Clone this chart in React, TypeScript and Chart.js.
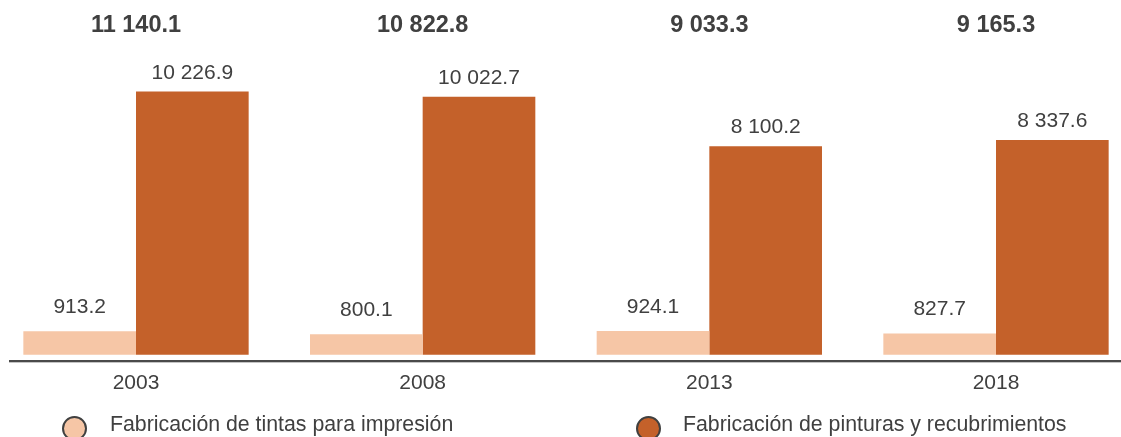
import React, { useEffect, useRef } from "react";
import { Chart, registerables } from "chart.js";

Chart.register(...registerables);

const categories = ["2003", "2008", "2013", "2018"];
const tintas = [913.2, 800.1, 924.1, 827.7];
const pinturas = [10226.9, 10022.7, 8100.2, 8337.6];
const totals = [11140.1, 10822.8, 9033.3, 9165.3];
const seriesNames = [
  "Fabricación de tintas para impresión",
  "Fabricación de pinturas y recubrimientos",
];
const colors = ["#F6C6A6", "#C4612A"];

const FONT = '"Liberation Sans", Arial, sans-serif';
const TEXT = "#404040";

function fmt(v: number): string {
  const [i, d] = v.toFixed(1).split(".");
  return i.replace(/\B(?=(\d{3})+(?!\d))/g, " ") + "." + d;
}

const labelPlugin = {
  id: "valueLabels",
  afterDatasetsDraw(chart: any) {
    const ctx = chart.ctx;
    ctx.save();
    ctx.fillStyle = TEXT;
    ctx.textAlign = "center";
    ctx.textBaseline = "middle";
    ctx.font = `21px ${FONT}`;
    const offsets = [24, 18.5];
    chart.data.datasets.forEach((ds: any, di: number) => {
      const meta = chart.getDatasetMeta(di);
      meta.data.forEach((bar: any, i: number) => {
        ctx.fillText(fmt(ds.data[i]), bar.x, bar.y - offsets[di]);
      });
    });
    ctx.font = `bold 23.5px ${FONT}`;
    const xs = chart.scales.x;
    totals.forEach((t, i) => {
      ctx.fillText(fmt(t), xs.getPixelForValue(i), 25.5);
    });
    // axis line
    ctx.fillStyle = "#4a4a4a";
    ctx.fillRect(9, 360, chart.width - 9, 2);
    ctx.fillStyle = "#c4c4c4";
    ctx.fillRect(9, 362, chart.width - 9, 1);
    ctx.restore();
  },
};

export default function App() {
  const ref = useRef<HTMLCanvasElement | null>(null);

  useEffect(() => {
    document.body.style.margin = "0";
    const canvas = ref.current;
    if (!canvas) return;
    const chart = new Chart(canvas, {
      type: "bar",
      data: {
        labels: categories,
        datasets: [
          {
            label: seriesNames[0],
            data: tintas,
            backgroundColor: colors[0],
            borderWidth: 0,
            clip: false as any,
          },
          {
            label: seriesNames[1],
            data: pinturas,
            backgroundColor: colors[1],
            borderWidth: 0,
            clip: false as any,
          },
        ],
      },
      options: {
        responsive: false,
        animation: false,
        events: [],
        layout: { padding: { left: 136, right: 125, top: 20, bottom: 25 } },
        datasets: {
          bar: { categoryPercentage: 0.786, barPercentage: 1 },
        },
        plugins: {
          legend: { display: false },
          tooltip: { enabled: false },
        },
        scales: {
          x: {
            type: "category",
            offset: false,
            grid: { display: false, drawTicks: false },
            border: { display: false },
            ticks: {
              padding: 16,
              color: TEXT,
              font: { family: FONT, size: 21 },
              maxRotation: 0,
              autoSkip: false,
            },
          },
          y: {
            display: false,
            min: 0,
            max: 13000,
          },
        },
      },
      plugins: [labelPlugin],
    });
    return () => chart.destroy();
  }, []);

  const legendItem = (i: number, circleLeft: number, textLeft: number) => (
    <React.Fragment key={i}>
      <div
        style={{
          position: "absolute",
          left: circleLeft,
          top: 2,
          width: 25,
          height: 25,
          boxSizing: "border-box",
          borderRadius: "50%",
          border: "2.5px solid #404040",
          background: colors[i],
        }}
      />
      <span
        style={{
          position: "absolute",
          left: textLeft,
          top: 0,
          lineHeight: "20px",
          whiteSpace: "nowrap",
        }}
      >
        {seriesNames[i]}
      </span>
    </React.Fragment>
  );

  return (
    <div
      style={{
        position: "relative",
        width: 1121,
        height: 437,
        overflow: "hidden",
        background: "#ffffff",
      }}
    >
      <canvas ref={ref} width={1121} height={437} style={{ display: "block" }} />
      <div
        style={{
          position: "absolute",
          left: 0,
          top: 414,
          width: 1121,
          height: 30,
          fontFamily: FONT,
          fontSize: 21.3,
          color: TEXT,
        }}
      >
        {legendItem(0, 62, 110)}
        {legendItem(1, 636, 683)}
      </div>
    </div>
  );
}
